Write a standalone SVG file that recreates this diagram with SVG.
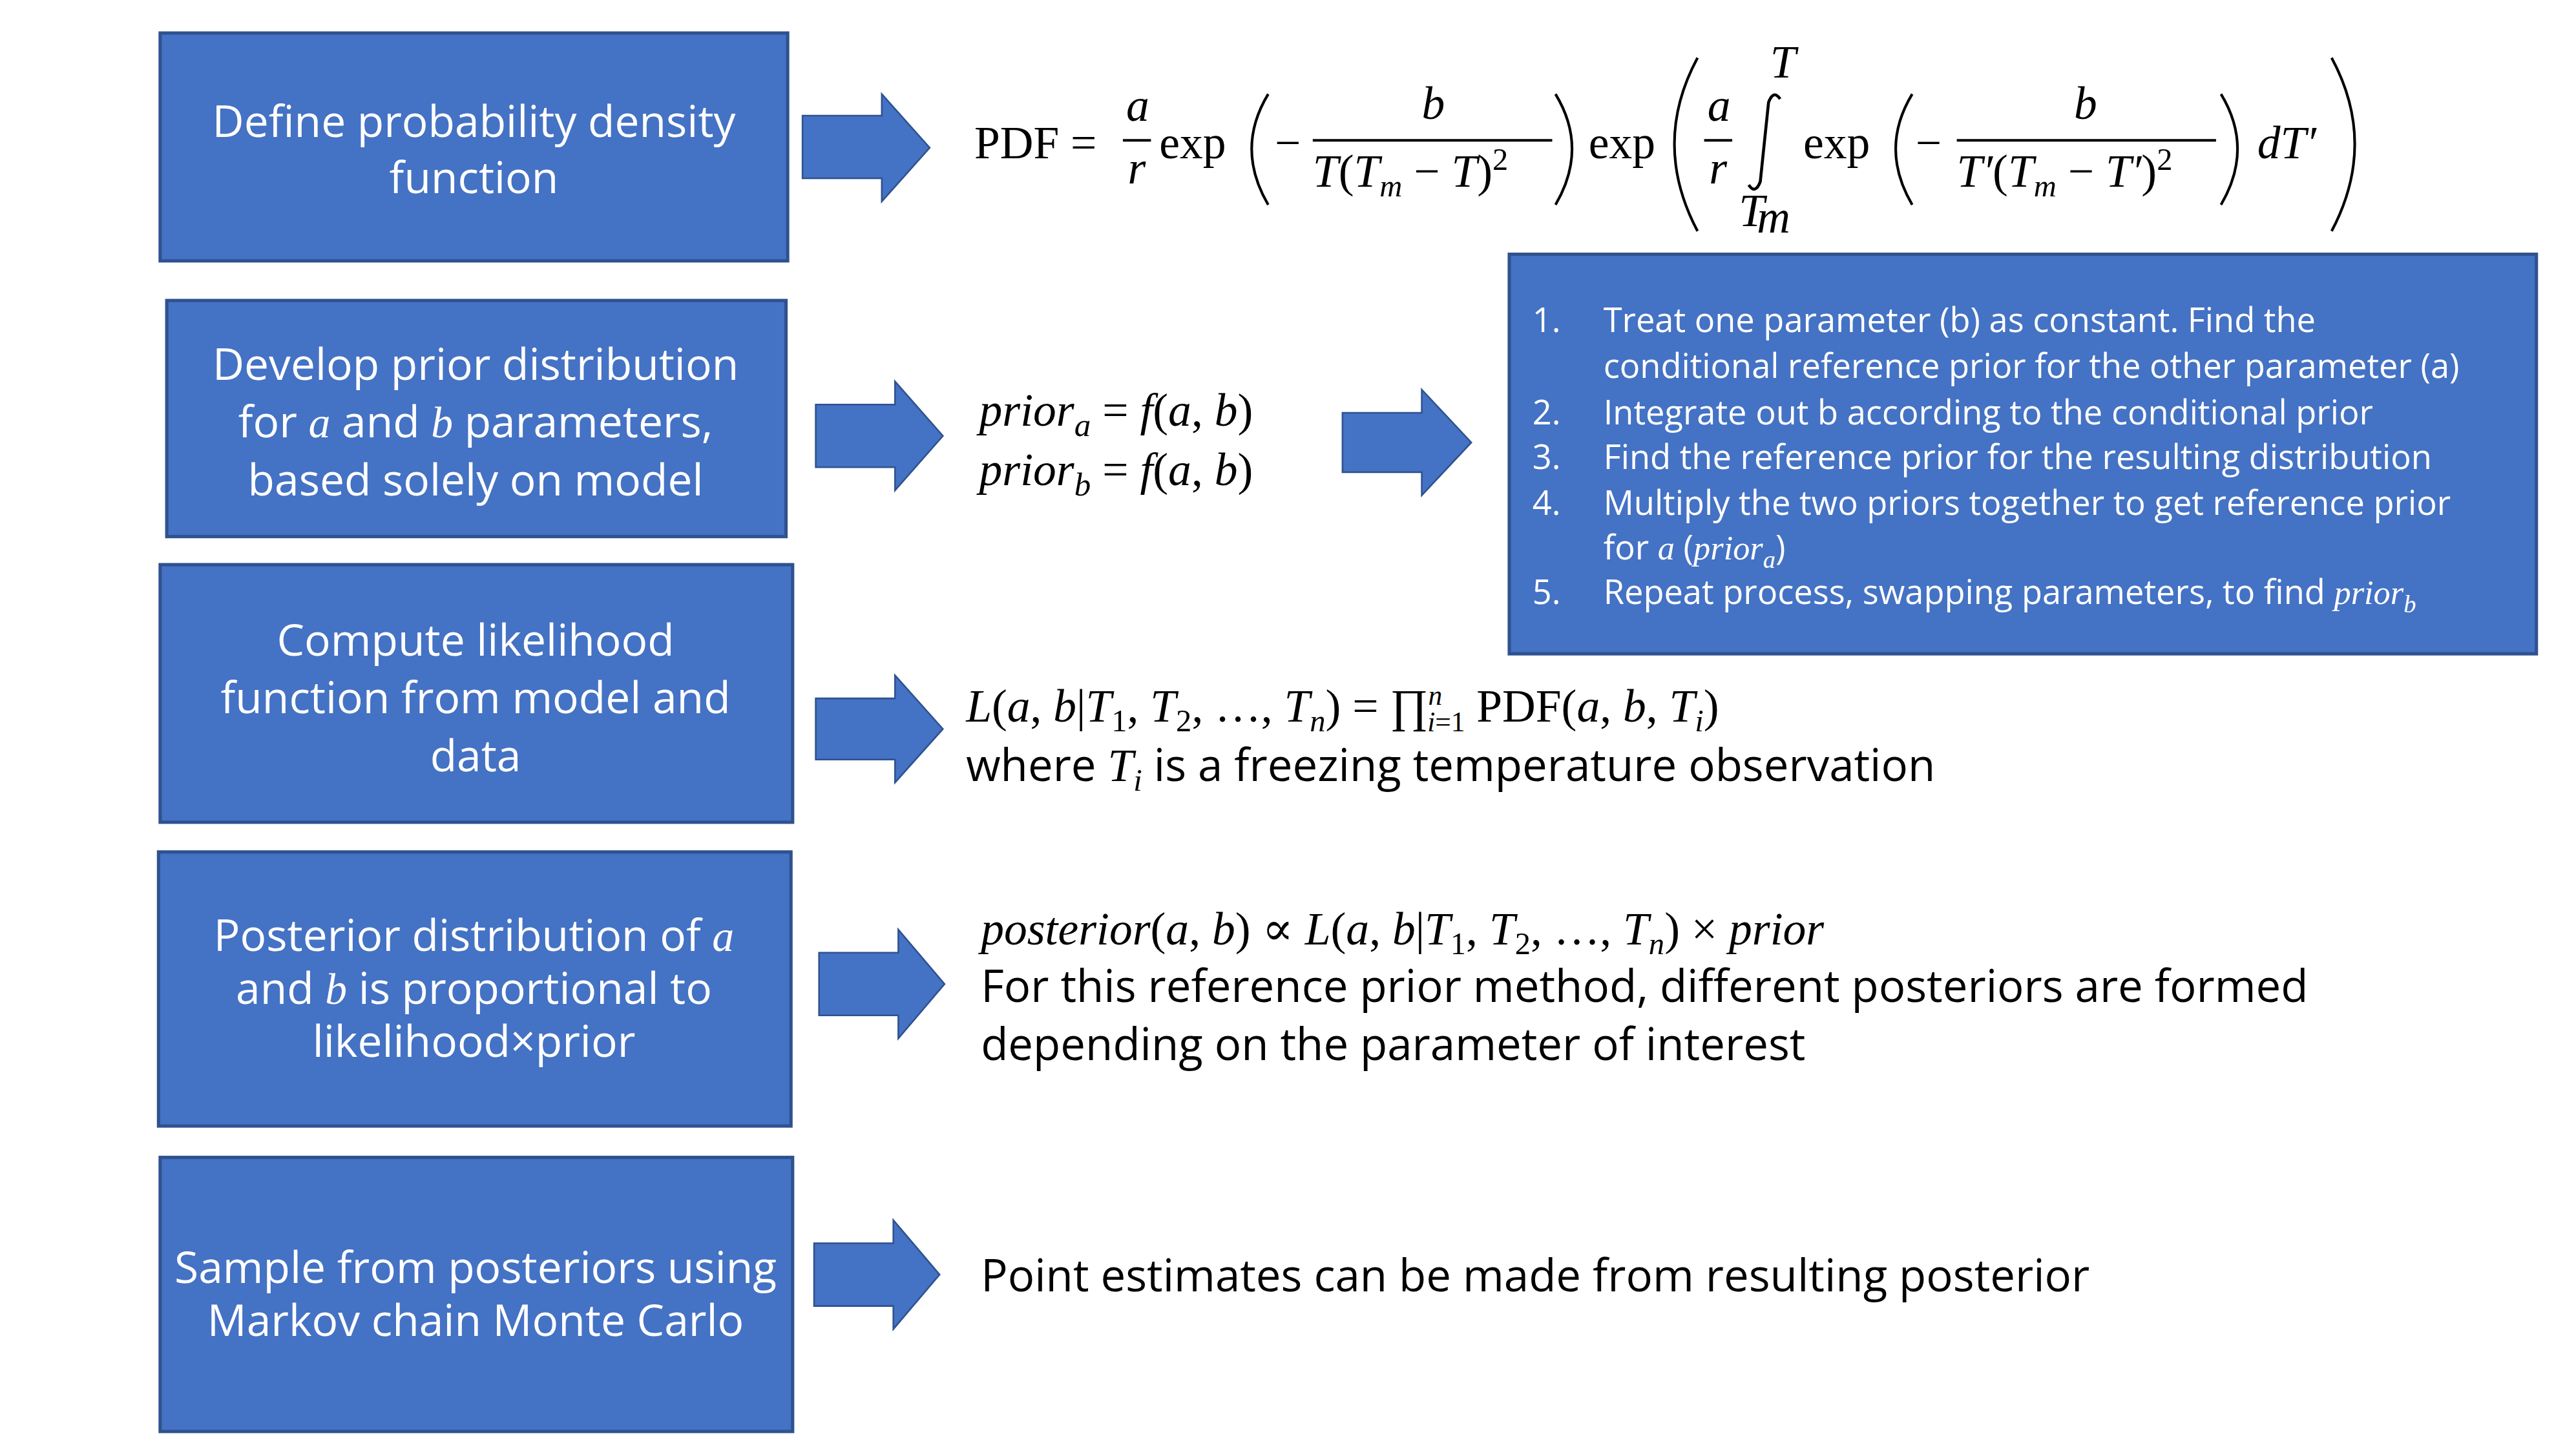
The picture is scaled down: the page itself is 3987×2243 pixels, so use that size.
<svg xmlns="http://www.w3.org/2000/svg" width="3987" height="2243" viewBox="0 0 3987 2243">
<defs>
<style>
.box{fill:#4472C4;stroke:#2F528F;stroke-width:2}
.arr{fill:#4472C4;stroke:#2F528F;stroke-width:1}
.bt{font-family:"Open Sans","Noto Sans",sans-serif;fill:#fff;text-anchor:middle;font-size:26.5px}
.lt{font-family:"Open Sans","Noto Sans",sans-serif;fill:#fff;font-size:20.5px}
.st{font-family:"Open Sans","Noto Sans",sans-serif;fill:#000;font-size:27px}
.m{font-family:"Liberation Serif","DejaVu Serif",serif;fill:#000;font-size:28px}
.i{font-style:italic}
.ln{stroke:#000;stroke-width:1.6;fill:none}
</style>
</defs>
<rect width="3987" height="2243" fill="#fff"/>
<g transform="scale(2.5558)">
<g id="connectors">
<path class="arr" d="M486,70 H534 V57 L563,89.5 L534,122 V108 H486 Z"/>
<path class="arr" d="M494,245 H542 V231 L571,264 L542,297 V283 H494 Z"/>
<path class="arr" d="M813,250 H861 V236 L891,268 L861,300 V286 H813 Z"/>
<path class="arr" d="M494,423 H542 V409 L571,441.5 L542,474 V460 H494 Z"/>
<path class="arr" d="M496,577 H544 V563 L572,596 L544,629 V615 H496 Z"/>
<path class="arr" d="M493,753 H541 V739 L569,772 L541,805 V791 H493 Z"/>
</g>
<g id="n1"><rect class="box" x="97" y="20" width="380" height="138"/>
<text class="bt" x="287" y="83">Define probability density</text><text class="bt" x="287" y="117">function</text></g>
<g id="n2"><rect class="box" x="101" y="182" width="375" height="143"/>
<text class="bt" x="288" y="230">Develop prior distribution</text>
<text class="bt" x="288" y="265">for <tspan class="i" font-family="Liberation Serif,serif">a</tspan> and <tspan class="i" font-family="Liberation Serif,serif">b</tspan> parameters,</text>
<text class="bt" x="288" y="300">based solely on model</text></g>
<g id="n3"><rect class="box" x="97" y="342" width="383" height="156"/>
<text class="bt" x="288" y="397">Compute likelihood</text><text class="bt" x="288" y="432">function from model and</text><text class="bt" x="288" y="467">data</text></g>
<g id="n4"><rect class="box" x="96" y="516" width="383" height="166"/>
<text class="bt" x="287" y="576" font-size="23.5">Posterior distribution of <tspan class="i" font-family="Liberation Serif,serif">a</tspan></text>
<text class="bt" x="287" y="608" font-size="23.5">and <tspan class="i" font-family="Liberation Serif,serif">b</tspan> is proportional to</text>
<text class="bt" x="287" y="640" font-size="23.5">likelihood×prior</text></g>
<g id="n5"><rect class="box" x="97" y="701" width="383" height="166"/>
<text class="bt" x="288" y="777" font-size="23">Sample from posteriors using</text><text class="bt" x="288" y="809" font-size="23">Markov chain Monte Carlo</text></g>
<g id="n6"><rect class="box" x="914" y="154" width="622" height="242"/>
<g class="lt">
<text x="928" y="201">1.</text><text x="971" y="201">Treat one parameter (b) as constant. Find the</text>
<text x="971" y="229">conditional reference prior for the other parameter (a)</text>
<text x="928" y="257">2.</text><text x="971" y="257">Integrate out b according to the conditional prior</text>
<text x="928" y="284">3.</text><text x="971" y="284">Find the reference prior for the resulting distribution</text>
<text x="928" y="312">4.</text><text x="971" y="312">Multiply the two priors together to get reference prior</text>
<text x="971" y="339">for <tspan class="i" font-family="Liberation Serif,serif">a</tspan> (<tspan class="i" font-family="Liberation Serif,serif">prior<tspan font-size="15" dy="5">a</tspan></tspan><tspan dy="-5">)</tspan></text>
<text x="928" y="366">5.</text><text x="971" y="366">Repeat process, swapping parameters, to find <tspan class="i" font-family="Liberation Serif,serif">prior<tspan font-size="15" dy="5">b</tspan></tspan></text>
</g></g>
<g id="eq1">
<text class="m" x="590" y="96">PDF =</text>
<text class="m i" x="682" y="73">a</text><line class="ln" x1="680" y1="85" x2="697" y2="85"/><text class="m i" x="683" y="111">r</text>
<text class="m" x="702" y="96">exp</text>
<path class="ln" d="M768,57 Q748,90 768,124"/>
<text class="m" x="772" y="96">−</text>
<text class="m i" x="861" y="72">b</text><line class="ln" x1="795" y1="85" x2="940" y2="85"/>
<text class="m" x="795" y="113"><tspan class="i">T</tspan>(<tspan class="i">T</tspan><tspan class="i" font-size="19" dy="6">m</tspan><tspan dy="-6"> − </tspan><tspan class="i">T</tspan>)<tspan font-size="19" dy="-10">2</tspan></text>
<path class="ln" d="M942,57 Q962,90 942,124"/>
<text class="m" x="962" y="96">exp</text>
<path class="ln" d="M1028,35 Q1000,87 1028,140"/>
<text class="m i" x="1034" y="73">a</text><line class="ln" x1="1032" y1="85" x2="1049" y2="85"/><text class="m i" x="1035" y="111">r</text>
<path d="M1078,60 Q1074,54 1071,62 L1066,110 Q1063,118 1059,112" stroke="#000" stroke-width="1.8" fill="none"/>
<text class="m i" x="1072" y="47" font-size="19">T</text>
<text class="m i" x="1053" y="137" font-size="19">T</text><text class="m i" x="1064" y="141" font-size="14">m</text>
<text class="m" x="1092" y="96">exp</text>
<path class="ln" d="M1158,57 Q1138,90 1158,124"/>
<text class="m" x="1160" y="96">−</text>
<text class="m i" x="1256" y="72">b</text><line class="ln" x1="1185" y1="85" x2="1342" y2="85"/>
<text class="m" x="1185" y="113"><tspan class="i">T′</tspan>(<tspan class="i">T</tspan><tspan class="i" font-size="19" dy="6">m</tspan><tspan dy="-6"> − </tspan><tspan class="i">T′</tspan>)<tspan font-size="19" dy="-10">2</tspan></text>
<path class="ln" d="M1345,57 Q1365,90 1345,124"/>
<text class="m i" x="1367" y="96">dT′</text>
<path class="ln" d="M1412,35 Q1440,87 1412,140"/>
</g>
<g id="eq2">
<text class="m" x="593" y="258"><tspan class="i">prior</tspan><tspan class="i" font-size="20" dy="6">a</tspan><tspan dy="-6"> = </tspan><tspan class="i">f</tspan>(<tspan class="i">a</tspan>, <tspan class="i">b</tspan>)</text>
<text class="m" x="593" y="294"><tspan class="i">prior</tspan><tspan class="i" font-size="20" dy="6">b</tspan><tspan dy="-6"> = </tspan><tspan class="i">f</tspan>(<tspan class="i">a</tspan>, <tspan class="i">b</tspan>)</text>
</g>
<g id="eq3">
<text class="m" x="585" y="437"><tspan class="i">L</tspan>(<tspan class="i">a</tspan>, <tspan class="i">b</tspan>|<tspan class="i">T</tspan><tspan font-size="19" dy="6">1</tspan><tspan dy="-6">, </tspan><tspan class="i">T</tspan><tspan font-size="19" dy="6">2</tspan><tspan dy="-6">, …, </tspan><tspan class="i">T</tspan><tspan class="i" font-size="19" dy="6">n</tspan><tspan dy="-6">) = ∏</tspan><tspan class="i" font-size="17" dy="-10">n</tspan><tspan font-size="17" dx="-9" dy="16"><tspan class="i">i</tspan>=1</tspan><tspan dy="-6"> PDF(</tspan><tspan class="i">a</tspan>, <tspan class="i">b</tspan>, <tspan class="i">T</tspan><tspan class="i" font-size="19" dy="6">i</tspan><tspan dy="-6">)</tspan></text>
<text class="st" x="585" y="473">where <tspan class="i" font-family="Liberation Serif,serif" font-size="28">T<tspan font-size="19" dy="6">i</tspan></tspan><tspan dy="-6"> is a freezing temperature observation</tspan></text>
</g>
<g id="eq4">
<text class="m" x="594" y="572"><tspan class="i">posterior</tspan>(<tspan class="i">a</tspan>, <tspan class="i">b</tspan>) ∝ <tspan class="i">L</tspan>(<tspan class="i">a</tspan>, <tspan class="i">b</tspan>|<tspan class="i">T</tspan><tspan font-size="19" dy="6">1</tspan><tspan dy="-6">, </tspan><tspan class="i">T</tspan><tspan font-size="19" dy="6">2</tspan><tspan dy="-6">, …, </tspan><tspan class="i">T</tspan><tspan class="i" font-size="19" dy="6">n</tspan><tspan dy="-6">) × </tspan><tspan class="i">prior</tspan></text>
<text class="st" x="594" y="607">For this reference prior method, different posteriors are formed</text>
<text class="st" x="594" y="642">depending on the parameter of interest</text>
</g>
<g id="eq5"><text class="st" x="594" y="782">Point estimates can be made from resulting posterior</text></g>
</g>
</svg>
